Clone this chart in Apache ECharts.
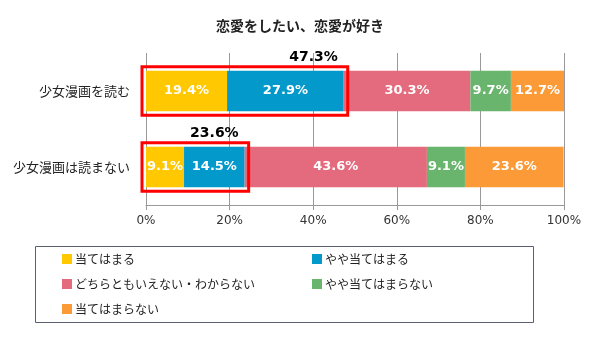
<!DOCTYPE html>
<html><head><meta charset="utf-8">
<script src="https://cdn.jsdelivr.net/npm/echarts@6/dist/echarts.min.js"></script>
<style>html,body{margin:0;padding:0;background:#fff}#c{width:600px;height:340px}</style>
</head><body><div id="c"></div>
<script>
var categories = ['少女漫画を読む', '少女漫画は読まない'];
var seriesNames = ['当てはまる', 'やや当てはまる', 'どちらともいえない・わからない', 'やや当てはまらない', '当てはまらない'];
var v1 = [19.4, 9.1];
var v2 = [27.9, 14.5];
var v3 = [30.3, 43.6];
var v4 = [9.7, 9.1];
var v5 = [12.7, 23.6];
var totals = [47.3, 23.6];
var xTicks = ['0%', '20%', '40%', '60%', '80%', '100%'];
var colors = ['#FFC800', '#0399CB', '#E46B7D', '#6AB56D', '#FC9A38'];
var FONT = "'DejaVu Sans','Noto Sans CJK JP',sans-serif";
var JFONT = "'Noto Sans CJK JP','DejaVu Sans',sans-serif";

var chart = echarts.init(document.getElementById('c'), null, {renderer: 'canvas'});
var values = [v1, v2, v3, v4, v5];
var series = values.map(function (arr, i) {
  return {
    name: seriesNames[i], type: 'bar', stack: 'a', barWidth: '53%',
    data: arr, itemStyle: {color: colors[i]},
    label: {show: true, position: 'inside', color: '#fff', fontWeight: 'bold', fontSize: 13, fontFamily: FONT,
      formatter: function (p) { return p.value.toFixed(1) + '%'; }}
  };
});
series.push({
  type: 'custom', name: 'box', z: 10, silent: true,
  data: totals.map(function (t, i) { return [t, i]; }),
  encode: {x: 0, y: 1},
  renderItem: function (params, api) {
    var t = api.value(0), c = api.value(1);
    var p0 = api.coord([0, c]);
    var p1 = api.coord([t, c]);
    var h = api.size([0, 1])[1] * 0.53;
    var pad = 4;
    return {type: 'group', children: [
      {type: 'rect', shape: {x: p0[0] - pad, y: p0[1] - h / 2 - pad, width: p1[0] - p0[0] + 2 * pad, height: h + 2 * pad},
        style: {fill: 'none', stroke: '#FF0000', lineWidth: 3}},
      {type: 'text', style: {x: p1[0] - 6, y: p0[1] - h / 2 - 14, text: t.toFixed(1) + '%', align: 'right', verticalAlign: 'middle',
        fill: '#000', font: 'bold 14px ' + FONT}}
    ]};
  }
});

var legends = [];
var lpos = [[62, 253], [312, 253], [62, 278], [312, 278], [62, 303]];
seriesNames.forEach(function (n, i) {
  legends.push({data: [n], left: lpos[i][0], top: lpos[i][1], itemWidth: 10, itemHeight: 10, itemGap: 4,
    icon: 'rect', padding: 0, selectedMode: false,
    textStyle: {fontSize: 12, color: '#222', fontFamily: JFONT, padding: [0, 0, 0, -2]}});
});

chart.setOption({
  animation: false,
  title: {text: '恋愛をしたい、恋愛が好き', left: 'center', top: 14, textStyle: {fontSize: 14, fontWeight: 'bold', color: '#222', fontFamily: JFONT}},
  legend: legends,
  grid: {left: 146, right: 36, top: 53, bottom: 135},
  xAxis: {type: 'value', min: 0, max: 100, interval: 20,
    axisLine: {show: true, lineStyle: {color: '#999'}},
    axisTick: {show: true, length: 5, lineStyle: {color: '#999'}},
    splitLine: {lineStyle: {color: '#999'}},
    axisLabel: {color: '#333', fontSize: 12, fontFamily: FONT, margin: 10,
      formatter: function (v) { return xTicks[v / 20]; }}},
  yAxis: {type: 'category', data: categories, inverse: true,
    axisLine: {show: false}, axisTick: {show: false},
    axisLabel: {color: '#222', fontSize: 13, fontFamily: JFONT, margin: 16}},
  graphic: [{type: 'rect', shape: {x: 35.5, y: 246.5, width: 498, height: 76},
    style: {fill: 'none', stroke: '#5a6070', lineWidth: 1}, z: -1}],
  series: series
});
</script></body></html>
